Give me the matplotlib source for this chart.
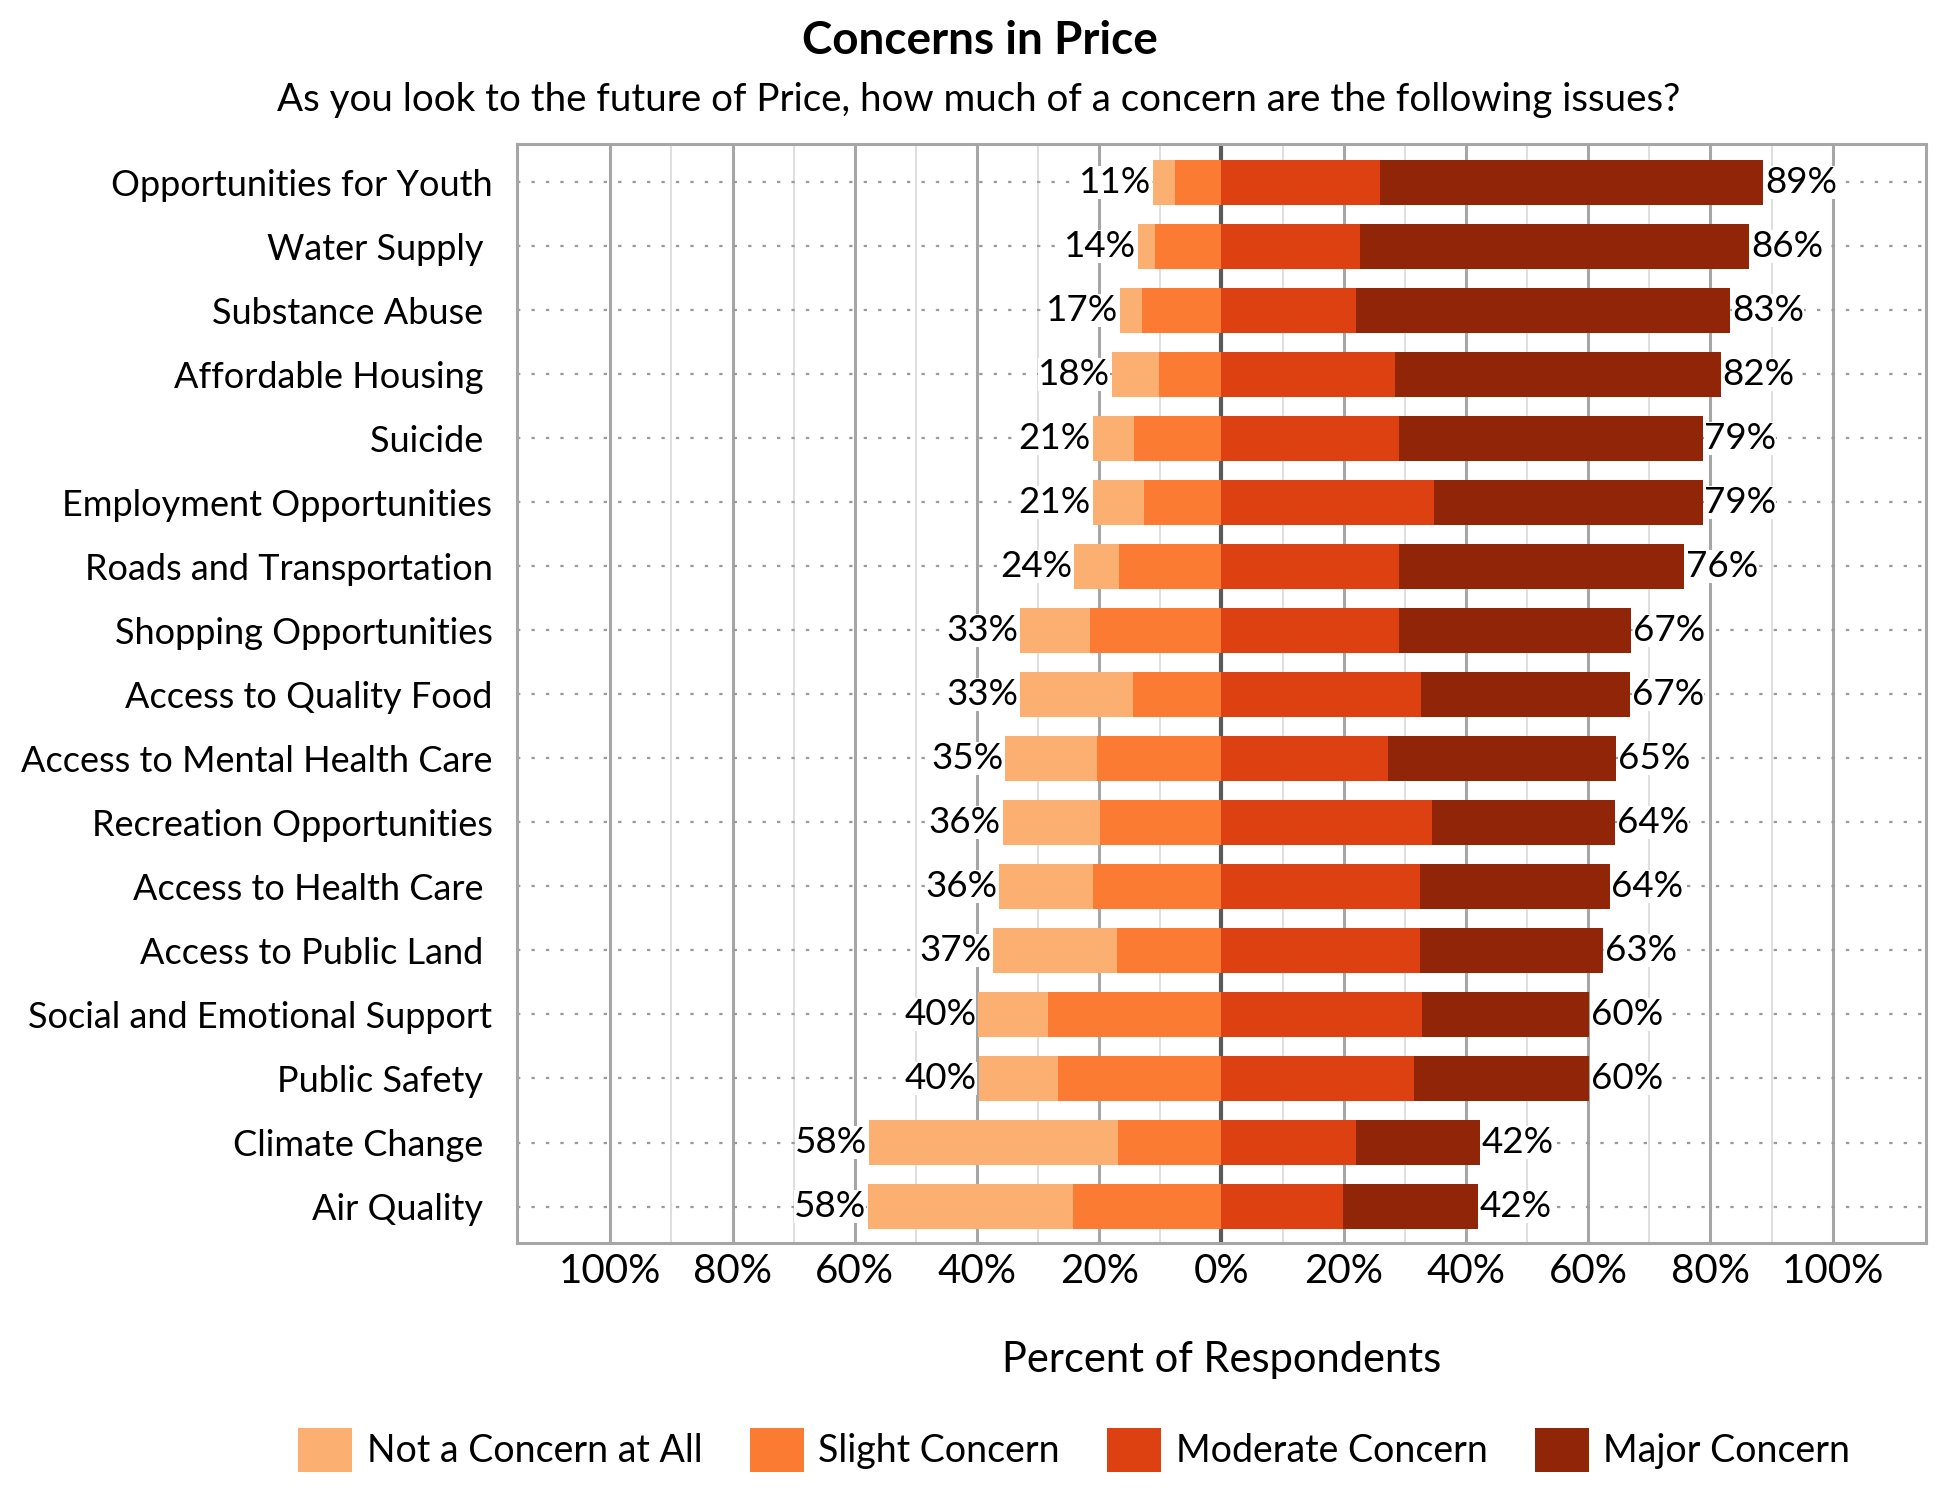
import matplotlib
matplotlib.use("Agg")
import matplotlib.pyplot as plt
from matplotlib.patches import Patch

plt.rcParams['font.family'] = ['Lato', 'DejaVu Sans']

categories = ["Opportunities for Youth", "Water Supply ", "Substance Abuse ",
              "Affordable Housing ", "Suicide ", "Employment Opportunities",
              "Roads and Transportation", "Shopping Opportunities",
              "Access to Quality Food", "Access to Mental Health Care",
              "Recreation Opportunities", "Access to Health Care ",
              "Access to Public Land ", "Social and Emotional Support",
              "Public Safety ", "Climate Change ", "Air Quality "]

not_at_all = [3.6, 2.8, 3.6, 7.6, 6.8, 8.4, 7.3, 11.4, 18.5, 15.0, 15.9, 15.3, 20.3, 11.4, 12.9, 40.6, 33.5]
slight = [7.6, 10.9, 13.0, 10.3, 14.3, 12.7, 16.8, 21.5, 14.5, 20.4, 19.9, 21.1, 17.1, 28.4, 26.8, 17.0, 24.3]
moderate = [26.0, 22.7, 22.0, 28.4, 29.1, 34.7, 29.0, 29.1, 32.6, 27.3, 34.5, 32.5, 32.5, 32.8, 31.5, 22.0, 19.8]
major = [62.6, 63.6, 61.2, 53.3, 49.6, 44.0, 46.7, 37.9, 34.3, 37.3, 29.9, 31.0, 30.0, 27.3, 28.6, 20.3, 22.1]

neg_labels = ["11%", "14%", "17%", "18%", "21%", "21%", "24%", "33%", "33%",
              "35%", "36%", "36%", "37%", "40%", "40%", "58%", "58%"]
pos_labels = ["89%", "86%", "83%", "82%", "79%", "79%", "76%", "67%", "67%",
              "65%", "64%", "64%", "63%", "60%", "60%", "42%", "42%"]

series_names = ["Not a Concern at All", "Slight Concern", "Moderate Concern", "Major Concern"]
colors = ["#FBB071", "#FA7B31", "#DD4111", "#912508"]

fig = plt.figure(figsize=(19.5, 15), dpi=100)
ax = fig.add_axes([0.265, 0.1711, 0.7228, 0.7329])

y = list(range(len(categories)))
h = 0.7

# grid first so it sits under the bars
for v in range(-100, 101, 10):
    if v == 0:
        continue
    if v % 20 == 0:
        ax.axvline(v, color="#a6a6a6", lw=2.2, zorder=0)
    else:
        ax.axvline(v, color="#d9d9d9", lw=1.2, zorder=0)
for yy in y:
    ax.axhline(yy, color="#9a9a9a", lw=1.6, ls=(0, (1.5, 5)), zorder=0)
ax.axvline(0, color="#595959", lw=3, zorder=0.5)

slight_left = [-s for s in slight]
not_left = [-(s + n) for s, n in zip(slight, not_at_all)]
ax.barh(y, not_at_all, left=not_left, height=h, color=colors[0], zorder=2)
ax.barh(y, slight, left=slight_left, height=h, color=colors[1], zorder=2)
ax.barh(y, moderate, left=0, height=h, color=colors[2], zorder=2)
ax.barh(y, major, left=moderate, height=h, color=colors[3], zorder=2)

for i in y:
    left_end = not_left[i]
    right_end = moderate[i] + major[i]
    ax.text(left_end - 0.3, i, neg_labels[i], ha="right", va="center", fontsize=26.5,
            bbox=dict(facecolor="white", edgecolor="none", pad=0), zorder=3)
    ax.text(right_end + 0.3, i, pos_labels[i], ha="left", va="center", fontsize=26.5,
            bbox=dict(facecolor="white", edgecolor="none", pad=0), zorder=3)

ax.set_xlim(-115.3, 115.3)
ax.set_ylim(16.575, -0.597)
ax.set_yticks(y)
ax.set_yticklabels(categories, fontsize=26)
ax.set_xticks(range(-100, 101, 20))
ax.set_xticklabels(["{0}%".format(abs(v)) for v in range(-100, 101, 20)], fontsize=29)
ax.tick_params(axis="y", length=0, pad=17.5)
ax.tick_params(axis="x", length=0, pad=7)
for s in ax.spines.values():
    s.set_color("#a6a6a6")
    s.set_linewidth(2.2)

fig.text(0.6263, 0.0933, "Percent of Respondents", ha="center", va="center", fontsize=30)
fig.text(0.5025, 0.973, "Concerns in Price", ha="center", va="center", fontsize=33, fontweight="bold")
fig.text(0.502, 0.933, "As you look to the future of Price, how much of a concern are the following issues?",
         ha="center", va="center", fontsize=27.7)

handles = [Patch(facecolor=c, edgecolor="none") for c in colors]
fig.legend(handles, series_names, loc="center", bbox_to_anchor=(0.551, 0.0333), ncol=4,
           frameon=False, fontsize=27, handlelength=1.44, handleheight=1.44, columnspacing=1.27,
           handletextpad=0.38)

fig.savefig("out.png", dpi=100)
